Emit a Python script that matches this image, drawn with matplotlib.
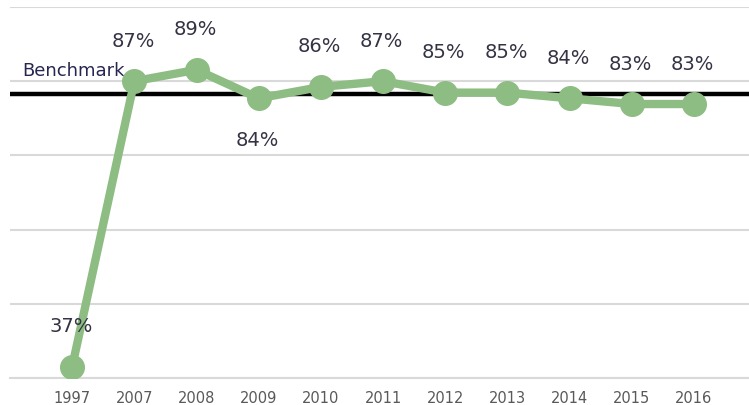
import matplotlib.pyplot as plt
import numpy as np

years = ['1997', '2007', '2008', '2009', '2010', '2011',
         '2012', '2013', '2014', '2015', '2016']
pct = [37, 87, 89, 84, 86, 87, 85, 85, 84, 83, 83]
benchmark = 84.75
# labels go above each point except 2009, which sits below
label_below = ['2009']

green = '#8dbd82'

fig = plt.figure(figsize=(7.49, 4.06), dpi=100)
ax = fig.add_axes([10 / 749, 1 - 379 / 406, 1 - 10 / 749, (379 - 8) / 406])

x = np.arange(len(years))

ax.set_ylim(35, 100)
ax.set_xlim(-1.0, 10.885)
ax.set_yticks(np.arange(35, 101, 13))
ax.yaxis.grid(True, color='#d9d9d9', linewidth=1.5)
ax.set_axisbelow(True)
ax.tick_params(axis='y', left=False, labelleft=False)

ax.axhline(benchmark, color='black', linewidth=3.2, zorder=2)
ax.text(-0.81, benchmark + 4.2, 'Benchmark', fontsize=13, color='#262650',
        va='center', ha='left', zorder=1)

ax.plot(x, pct, color=green, linewidth=6, marker='o', markersize=17,
        solid_capstyle='round', zorder=3)

for xi, yr, v in zip(x, years, pct):
    dy = -29.5 if yr in label_below else 29.5
    ax.annotate(f'{v}%', (xi, v), xytext=(-1, dy), textcoords='offset points',
                ha='center', va='center', fontsize=14, color='#333344')

ax.set_xticks(x)
ax.set_xticklabels(years, fontsize=10.5, color='#595959')
ax.tick_params(axis='x', length=0, pad=9)

for side in ['top', 'right', 'left']:
    ax.spines[side].set_visible(False)
ax.spines['bottom'].set_color('#d9d9d9')
ax.spines['bottom'].set_linewidth(1.5)

fig.savefig('out.png', dpi=100)
